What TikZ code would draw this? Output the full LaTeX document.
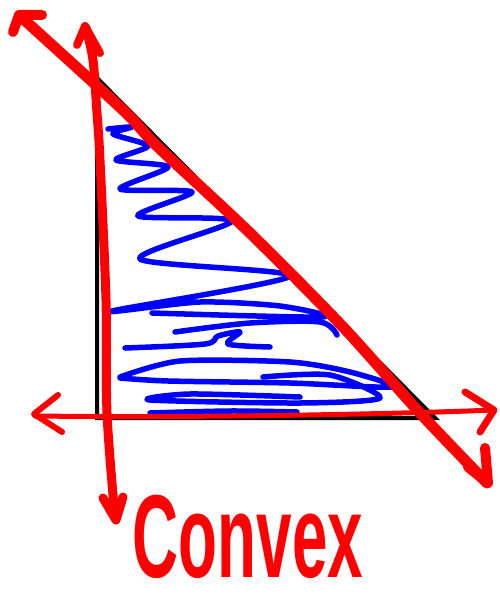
\documentclass[tikz,border=0pt]{standalone}
\usepackage{fontspec}
\setmainfont{Liberation Sans}
\definecolor{penred}{RGB}{255,0,0}
\definecolor{penblue}{RGB}{0,0,255}
\tikzset{
  tri/.style={line width=4pt, black, line join=miter},
  scribble/.style={line width=5.5pt, penblue, line cap=round, line join=round},
  redpen/.style={penred, line cap=round, line join=round},
  handlabel/.style={penred, inner sep=0pt, font=\fontsize{118}{118}\bfseries\selectfont, xscale=0.54, transform shape},
}
\begin{document}
\begin{tikzpicture}[x=1pt,y=-1pt]
\useasboundingbox (0,0) rectangle (499,594);
% black triangle
\draw[tri] (97,78) -- (97,418) -- (435,418) -- cycle;
% blue scribble
\draw[scribble] plot[smooth, tension=0.45] coordinates {(108,129) (132,127) (113,134) (148,146) (116,160) (168,167) (120,189) (192,192) (138,216) (232,221) (140,259) (290,276) (112,311) (200,302) (280,306) (322,317) (152,313)};
\draw[scribble] plot[smooth, tension=0.5] coordinates {(175,332) (250,323) (320,322) (337,335)};
\draw[scribble] plot[smooth, tension=0.5] coordinates {(125,348) (205,344) (218,336) (240,332) (228,344) (270,347)};
\draw[scribble] plot[smooth, tension=0.45] coordinates {(120,377) (180,361) (290,362) (350,372) (392,387) (290,383) (168,381) (120,378)};
\draw[scribble] plot[smooth, tension=0.45] coordinates {(263,377) (330,375) (380,398) (300,403) (150,400) (190,394) (300,397)};
\draw[scribble] plot[smooth, tension=0.5] coordinates {(150,413) (230,411) (297,412)};
% red horizontal axis
\draw[redpen, line width=5pt] (35,416) .. controls (200,418) and (400,414) .. (493,410);
\draw[redpen, line width=6pt] (58,395) -- (34,414) -- (62,432);
\draw[redpen, line width=7pt] (465,392) -- (494,410) -- (480,432);
% red vertical axis
\draw[redpen, line width=9pt] plot[smooth, tension=0.5] coordinates {(86,28) (93,60) (97,113) (100,160) (106,300) (107,413) (115,518)};
\draw[redpen, line width=8pt] (77,45) -- (85,26) -- (100,53);
\draw[redpen, line width=9pt] (103,498) -- (116,520) -- (123,497);
% red diagonal
\draw[redpen, line width=11pt] plot[smooth, tension=0.5] coordinates {(20,16) (123,110) (157,146) (250,233) (343,327) (420,413) (487,483)};
\draw[redpen, line width=10pt] (13,32) -- (19,15) -- (42,15);
\draw[redpen, line width=10pt] (468,467) -- (488,483) -- (485,448);
% label
\node[handlabel, anchor=base] (lbl) at (248,577) {Convex};
\end{tikzpicture}
\end{document}
